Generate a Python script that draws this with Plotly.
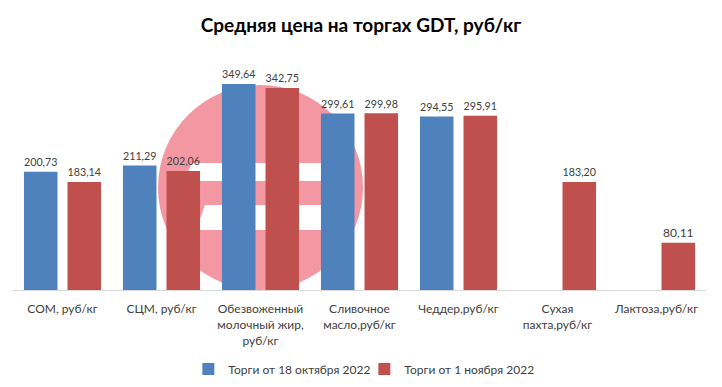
import plotly.graph_objects as go

categories = ["СОМ, руб/кг", "СЦМ, руб/кг", "Обезвоженный<br>молочный жир,<br>руб/кг",
              "Сливочное<br>масло,руб/кг", "Чеддер,руб/кг", "Сухая<br>пахта,руб/кг", "Лактоза,руб/кг"]
series_oct = [200.73, 211.29, 349.64, 299.61, 294.55, None, None]
series_nov = [183.14, 202.06, 342.75, 299.98, 295.91, 183.20, 80.11]
series_names = ["Торги от 18 октября 2022", "Торги от 1 ноября 2022"]
title_text = "Средняя цена на торгах GDT, руб/кг"

W, H = 722, 387
ML, MR, MT, MB = 13, 16, 72, 97
PW, PH = W - ML - MR, H - MT - MB

def fmt(v):
    return "" if v is None else f"{v:.2f}".replace(".", ",")

def px(x):
    return (x - ML) / PW

def py(y):
    return (H - MB - y) / PH

FONT = "Lato"
fig = go.Figure()
for name, vals, col in [(series_names[0], series_oct, "#4F81BD"), (series_names[1], series_nov, "#C0504D")]:
    fig.add_trace(go.Bar(
        x=categories, y=vals, name=name,
        marker=dict(color=col, line=dict(width=0)),
        text=[fmt(v) for v in vals], textposition="outside",
        textfont=dict(family=FONT, size=12, color="#404040"),
        cliponaxis=False,
    ))

# watermark logo (decorative)
shapes = [
    dict(type="circle", xref="paper", yref="paper", layer="below",
         x0=px(158), x1=px(363), y0=py(290), y1=py(85),
         fillcolor="rgb(243,152,162)", line=dict(width=0)),
    dict(type="path", xref="paper", yref="paper", layer="below",
         path=f"M {px(192)},{py(163)} L {px(345)},{py(163)} L {px(342)},{py(181)} L {px(184)},{py(181)} Z",
         fillcolor="white", line=dict(width=0)),
    dict(type="path", xref="paper", yref="paper", layer="below",
         path=f"M {px(205)},{py(205)} L {px(352)},{py(205)} L {px(349)},{py(230)} L {px(196)},{py(230)} Z",
         fillcolor="white", line=dict(width=0)),
]

fig.update_layout(
    width=W, height=H,
    margin=dict(l=ML, r=MR, t=MT, b=MB, autoexpand=False),
    paper_bgcolor="white", plot_bgcolor="rgba(0,0,0,0)",
    barmode="group", bargap=0.12, bargroupgap=0.23,
    title=dict(text=f"<b>{title_text}</b>", x=0.5, xanchor="center", y=0.935, yanchor="middle",
               font=dict(family=FONT, size=19, color="#000000")),
    xaxis=dict(showline=True, linecolor="#D9D9D9", linewidth=1, ticks="outside", ticklen=8,
               tickcolor="rgba(0,0,0,0)", showgrid=False, automargin=False,
               tickfont=dict(family=FONT, size=12, color="#404040"), tickangle=0),
    yaxis=dict(range=[0, 370], visible=False, showgrid=False, automargin=False),
    legend=dict(orientation="h", x=0.507, xanchor="center", y=-0.362, yanchor="middle",
                font=dict(family=FONT, size=12, color="#404040"), itemwidth=30,
                entrywidth=131, entrywidthmode="pixels"),
    shapes=shapes,
    showlegend=True,
)

fig.write_html("out.html", config={"displayModeBar": False},
               post_script="document.body.style.margin='0';document.body.style.overflow='hidden';")
